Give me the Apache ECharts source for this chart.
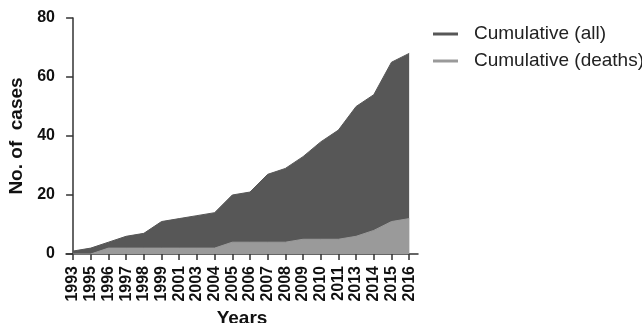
<!DOCTYPE html>
<html>
<head>
<meta charset="utf-8">
<script src="https://cdn.jsdelivr.net/npm/echarts@6/dist/echarts.min.js"></script>
<style>html,body{margin:0;padding:0;background:#fff}#c{width:642px;height:323px}</style>
</head>
<body>
<div id="c"></div>
<script>
const years = ['1993','1995','1996','1997','1998','1999','2001','2003','2004','2005','2006','2007','2008','2009','2010','2011','2013','2014','2015','2016'];
const cumulativeAll = [1,2,4,6,7,11,12,13,14,20,21,27,29,33,38,42,50,54,65,68];
const cumulativeDeaths = [0,0,2,2,2,2,2,2,2,4,4,4,4,5,5,5,6,8,11,12];
const yTicks = [0,20,40,60,80];

const idx = years.map((_, i) => i);
const toPts = arr => arr.map((v, i) => [i, v]);
const FONT = '"Liberation Sans", Arial, sans-serif';
const DARK = '#575757', LIGHT = '#9a9a9a', AXIS = '#333';

const chart = echarts.init(document.getElementById('c'), null, {renderer: 'canvas'});
chart.setOption({
  animation: false,
  backgroundColor: '#fff',
  grid: {left: 66, top: 18, width: 352, height: 236, containLabel: false, outerBoundsMode: 'none'},
  legend: {
    orient: 'vertical', left: 433, top: 24, padding: 0,
    icon: 'rect', itemWidth: 25, itemHeight: 3, itemGap: 7,
    textStyle: {fontFamily: FONT, fontSize: 19, color: '#222', lineHeight: 20, padding: [0,0,0,11]},
    data: ['Cumulative (all)', 'Cumulative (deaths)']
  },
  xAxis: {
    type: 'value', min: -0.4, max: 19.5,
    name: 'Years', nameLocation: 'middle', nameGap: 51,
    nameTextStyle: {fontFamily: FONT, fontSize: 19, fontWeight: 'bold', color: '#111'},
    axisLine: {show: true, lineStyle: {color: AXIS, width: 1.5}},
    axisTick: {show: true, length: 6, customValues: idx, lineStyle: {color: AXIS, width: 1.5}},
    axisLabel: {
      customValues: idx, rotate: 90, margin: 12,
      fontFamily: FONT, fontSize: 16, fontWeight: 'bold', color: '#111',
      formatter: v => years[Math.round(v)]
    },
    splitLine: {show: false}
  },
  yAxis: {
    type: 'value', min: 0, max: 80, interval: 20,
    name: 'No. of  cases', nameLocation: 'middle', nameGap: 38, nameRotate: 90,
    nameTextStyle: {fontFamily: FONT, fontSize: 19, fontWeight: 'bold', color: '#111'},
    axisLine: {show: true, lineStyle: {color: AXIS, width: 1.5}},
    axisTick: {show: true, length: 7, lineStyle: {color: AXIS, width: 1.5}},
    axisLabel: {
      margin: 11, fontFamily: FONT, fontSize: 16, fontWeight: 'bold', color: '#111',
      formatter: v => yTicks.includes(v) ? String(v) : ''
    },
    splitLine: {show: false}
  },
  series: [
    {
      name: 'Cumulative (all)', type: 'line', data: toPts(cumulativeAll),
      showSymbol: false, color: DARK,
      lineStyle: {color: DARK, width: 1}, itemStyle: {color: DARK},
      areaStyle: {color: DARK, opacity: 1}, z: 2
    },
    {
      name: 'Cumulative (deaths)', type: 'line', data: toPts(cumulativeDeaths),
      showSymbol: false, color: LIGHT,
      lineStyle: {color: LIGHT, width: 1}, itemStyle: {color: LIGHT},
      areaStyle: {color: LIGHT, opacity: 1}, z: 3
    }
  ]
});
</script>
</body>
</html>
